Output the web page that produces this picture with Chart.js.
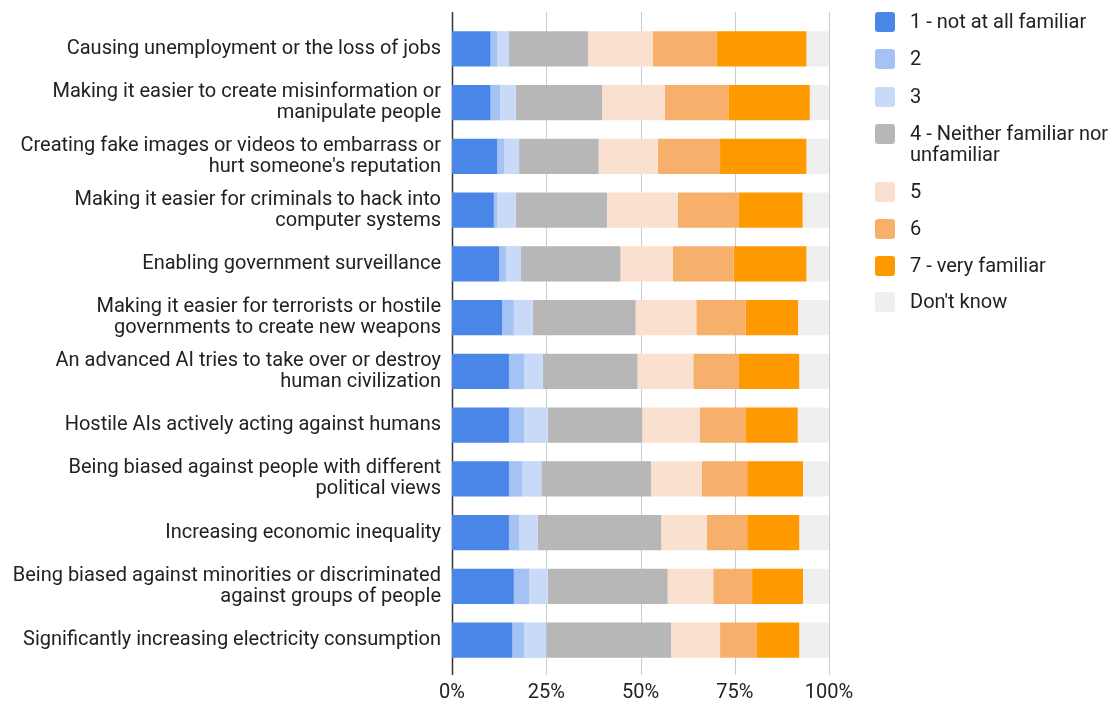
<!DOCTYPE html>
<html>
<head>
<meta charset="utf-8">
<script src="https://cdn.jsdelivr.net/npm/chart.js@4"></script>
<style>
  html, body { margin: 0; padding: 0; background: #fff; }
  #wrap { position: relative; width: 1113px; height: 704px; }
  #legend { position: absolute; left: 875px; top: 0; font: 20px Roboto, sans-serif; color: #222; }
  .item { position: absolute; left: 0; display: flex; align-items: flex-start; width: 240px; }
  .sw { width: 20px; height: 20px; border-radius: 3px; flex: none; margin-top: 1px; }
  .txt { margin-left: 15px; line-height: 21px; white-space: nowrap; }
</style>
</head>
<body>
<div id="wrap">
  <canvas id="c" width="1113" height="704"></canvas>
  <div id="legend"></div>
</div>
<script>
// Familiarity with AI risks: share of respondents at each level (%)
const risks = [
  ["Causing unemployment or the loss of jobs"],
  ["Making it easier to create misinformation or", "manipulate people"],
  ["Creating fake images or videos to embarrass or", "hurt someone's reputation"],
  ["Making it easier for criminals to hack into", "computer systems"],
  ["Enabling government surveillance"],
  ["Making it easier for terrorists or hostile", "governments to create new weapons"],
  ["An advanced AI tries to take over or destroy", "human civilization"],
  ["Hostile AIs actively acting against humans"],
  ["Being biased against people with different", "political views"],
  ["Increasing economic inequality"],
  ["Being biased against minorities or discriminated", "against groups of people"],
  ["Significantly increasing electricity consumption"]
];

const levels = [
  ["1 - not at all familiar"],
  ["2"],
  ["3"],
  ["4 - Neither familiar nor", "unfamiliar"],
  ["5"],
  ["6"],
  ["7 - very familiar"],
  ["Don't know"]
];
const levelColors = ["#4a86e8", "#a4c2f4", "#c9daf8", "#b7b7b7", "#fae1cf", "#f6b06b", "#ff9900", "#efefef"];

const notAtAll = [10.2, 10.2, 12.0, 11.1, 12.5, 13.3, 15.1, 15.1, 15.1, 15.1, 16.4, 16.0];
const two      = [1.8, 2.6, 1.8, 0.9, 1.8, 3.1, 4.1, 4.1, 3.6, 2.7, 4.1, 3.2];
const three    = [3.1, 4.1, 4.0, 4.9, 4.0, 5.0, 4.9, 6.2, 5.0, 4.9, 4.9, 5.8];
const neutral  = [21.0, 22.9, 21.1, 24.2, 26.4, 27.3, 25.1, 25.1, 29.1, 32.8, 31.8, 33.1];
const five     = [17.1, 16.6, 15.7, 18.8, 13.9, 16.1, 14.8, 15.2, 13.5, 12.1, 12.1, 13.0];
const six      = [17.0, 16.9, 16.5, 16.2, 16.1, 13.1, 12.1, 12.1, 12.0, 10.7, 10.3, 9.8];
const veryFam  = [23.8, 21.6, 22.9, 16.9, 19.3, 13.9, 16.0, 13.9, 14.8, 13.8, 13.5, 11.2];
const dontKnow = [6.0, 5.1, 6.0, 7.0, 6.0, 8.2, 7.9, 8.3, 6.9, 7.9, 6.9, 7.9];

const series = [notAtAll, two, three, neutral, five, six, veryFam, dontKnow];
const xTicks = [0, 25, 50, 75, 100];

const FONT = "Roboto, sans-serif";

// vertical grid lines run a bit past the plot area, like the original sheet chart
const gridLines = {
  id: "gridLines",
  beforeDatasetsDraw(chart) {
    const { ctx, scales: { x }, chartArea } = chart;
    ctx.save();
    xTicks.forEach((t) => {
      const px = Math.round(x.getPixelForValue(t)) + 0.5;
      ctx.strokeStyle = t === 0 ? "#333333" : "#cccccc";
      ctx.lineWidth = t === 0 ? 1.5 : 1;
      ctx.beginPath();
      ctx.moveTo(px, chartArea.top - 10);
      ctx.lineTo(px, chartArea.bottom + 8);
      ctx.stroke();
    });
    ctx.restore();
  }
};

new Chart(document.getElementById("c"), {
  type: "bar",
  data: {
    labels: risks,
    datasets: series.map((data, i) => ({
      label: levels[i].join(" "),
      data,
      backgroundColor: levelColors[i],
      borderWidth: 0,
      borderRadius: i === series.length - 1 ? { topRight: 2, bottomRight: 2 } : 0,
      borderSkipped: false,
      barPercentage: 0.66,
      categoryPercentage: 1
    }))
  },
  options: {
    indexAxis: "y",
    responsive: false,
    animation: false,
    layout: { padding: { top: 22, right: 284, bottom: 0, left: 0 } },
    plugins: { legend: { display: false }, tooltip: { enabled: false } },
    scales: {
      x: {
        stacked: true,
        min: 0,
        max: 100,
        grid: { display: false, drawTicks: false },
        border: { display: false },
        afterFit: (s) => { s.height = 37; },
        afterBuildTicks: (s) => { s.ticks = xTicks.map((v) => ({ value: v })); },
        ticks: {
          padding: 14,
          color: "#222",
          font: { family: FONT, size: 20 },
          callback: (v) => v + "%"
        }
      },
      y: {
        stacked: true,
        grid: { display: false, drawTicks: false },
        border: { display: false },
        afterFit: (s) => { s.width = 452; },
        ticks: {
          padding: 11,
          color: "#222",
          font: { family: FONT, size: 20, lineHeight: 1.05 }
        }
      }
    }
  },
  plugins: [gridLines]
});

// legend on the right
const legendTops = [11, 48, 86, 123, 181, 218, 255, 291];
const legendEl = document.getElementById("legend");
levels.forEach((lv, i) => {
  const item = document.createElement("div");
  item.className = "item";
  item.style.top = legendTops[i] + "px";
  item.innerHTML = `<div class="sw" style="background:${levelColors[i]}"></div><div class="txt">${lv.join("<br>")}</div>`;
  legendEl.appendChild(item);
});
</script>
</body>
</html>
